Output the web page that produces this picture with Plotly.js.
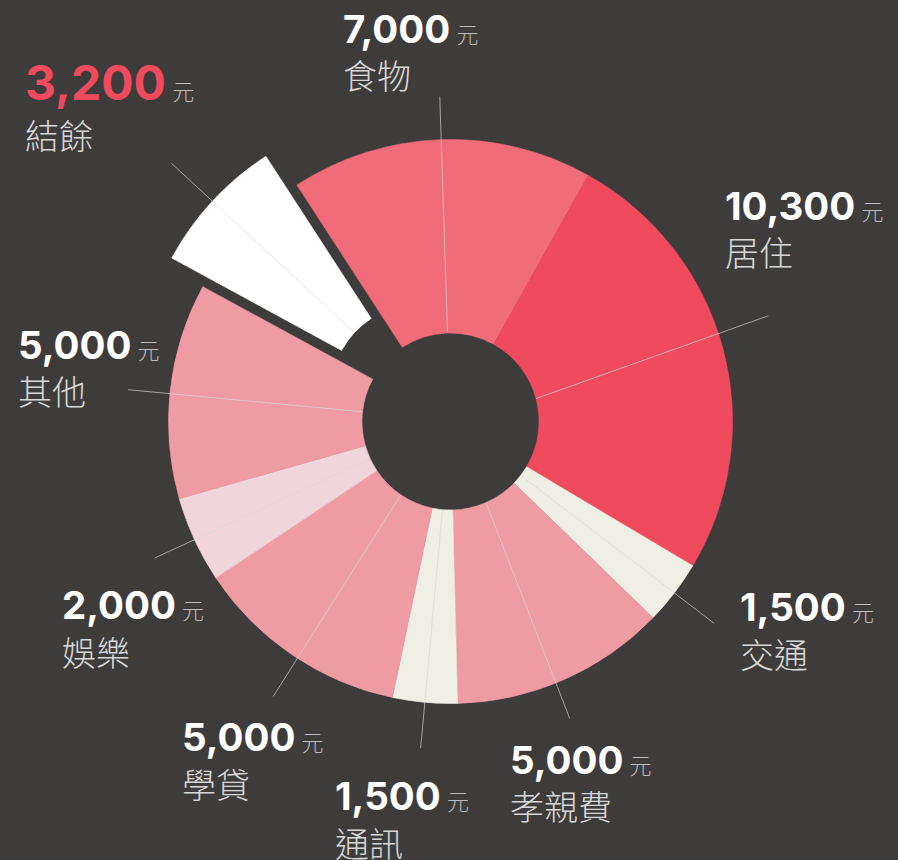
<!DOCTYPE html>
<html><head><meta charset="utf-8">
<script src="https://cdn.plot.ly/plotly-3.0.1.min.js"></script>
<style>html,body{margin:0;padding:0;background:#3e3c3b;}#chart{width:898px;height:860px;}</style>
</head><body><div id="chart"></div>
<script>
// ---- data ----
const categories = ['食物','居住','交通','孝親費','通訊','學貸','娛樂','其他','結餘'];
const amounts = [7000, 10300, 1500, 5000, 1500, 5000, 2000, 5000, 3200];
const unit = '元';
const sliceColors = ['#f06c7b','#ef4a5e','#f0efe4','#ee9ba4','#f0efe4','#ee9ba4','#f0d6db','#ee9ba4','#ffffff'];
const pulls = [0, 0, 0, 0, 0, 0, 0, 0, 0.15];
const highlight = [false,false,false,false,false,false,false,false,true];

// ---- geometry / style ----
const W = 898, H = 860, CX = 450.5, CY = 421.5, R = 282, HOLE = 0.314, ROT = -33;
const leaderLen = [325, 335, 332, 320, 328, 327, 326, 324, 338];
const leaderTilt = [0, -3.4, 0, 1.8, 0, -1.3, 0, -0.7, 0];
const labelOff = [[-97,-68],[-49,-129],[26,-16],[-69,45],[-86,48],[-85,45],[-92.5,47],[-110.5,-41],[-146,-80.5]];

const total = amounts.reduce((a,b)=>a+b,0);
let acc = ROT;
const mids = amounts.map(v => { const a0 = acc; acc += v/total*360; return (a0+acc)/2; });
const maxPull = Math.max(...pulls);
const box = R*(1+maxPull);

const pie = {
  type:'pie', values: amounts, labels: categories, sort:false, direction:'clockwise',
  rotation: ROT, hole: HOLE, pull: pulls,
  marker:{colors: sliceColors, line:{width:0.6, color: sliceColors}},
  textinfo:'none', hoverinfo:'label+value', showlegend:false,
  domain:{x:[(CX-box)/W,(CX+box)/W], y:[1-(CY+box)/H, 1-(CY-box)/H]}
};
const dummy = {type:'scatter', x:[], y:[], hoverinfo:'skip', showlegend:false};

const shapes = [], annotations = [];
mids.forEach((m,i)=>{
  const rad = m*Math.PI/180, s = Math.sin(rad), c = -Math.cos(rad);
  const p = pulls[i]*R;
  const r0 = R*HOLE + p, r1 = leaderLen[i] + p;
  const ex = CX + r1*s, ey = CY + r1*c;
  const rt = (m + leaderTilt[i])*Math.PI/180;
  const lx1 = CX + p*s + leaderLen[i]*Math.sin(rt), ly1 = CY + p*c - leaderLen[i]*Math.cos(rt);
  shapes.push({type:'line', xref:'x', yref:'y', layer:'above',
    x0: CX + r0*s, y0: CY + r0*c, x1: lx1, y1: ly1,
    line:{color:'rgba(215,215,215,0.85)', width:0.8}});
  const lx = ex + labelOff[i][0], ly = ey + labelOff[i][1];
  const big = highlight[i];
  annotations.push({xref:'x', yref:'y', x: lx - 2, y: ly, xanchor:'left', yanchor:'middle', showarrow:false,
    text: amounts[i].toLocaleString('en-US') + '<span style="font-size:22px;fill:#bdbdbd;font-weight:300"> ' + unit + '</span>',
    font:{family:'Inter, "Noto Sans CJK TC", sans-serif', size: big?48:38.5, weight:700, color: big?'#ef4a5e':'#ffffff'}});
  annotations.push({xref:'x', yref:'y', x: lx - 2, y: ly + (big?52:46), xanchor:'left', yanchor:'middle', showarrow:false,
    text: categories[i],
    font:{family:'"Noto Sans CJK TC", sans-serif', size:34, weight:300, color:'#d8d8d8'}});
});

const layout = {
  width: W, height: H, margin:{l:0,r:0,t:0,b:0},
  paper_bgcolor:'#3e3c3b', plot_bgcolor:'rgba(0,0,0,0)', showlegend:false,
  xaxis:{range:[0,W], visible:false, fixedrange:true},
  yaxis:{range:[H,0], visible:false, fixedrange:true},
  shapes, annotations
};
Plotly.newPlot('chart', [dummy, pie], layout, {displayModeBar:false, staticPlot:true});
</script>
</body></html>
